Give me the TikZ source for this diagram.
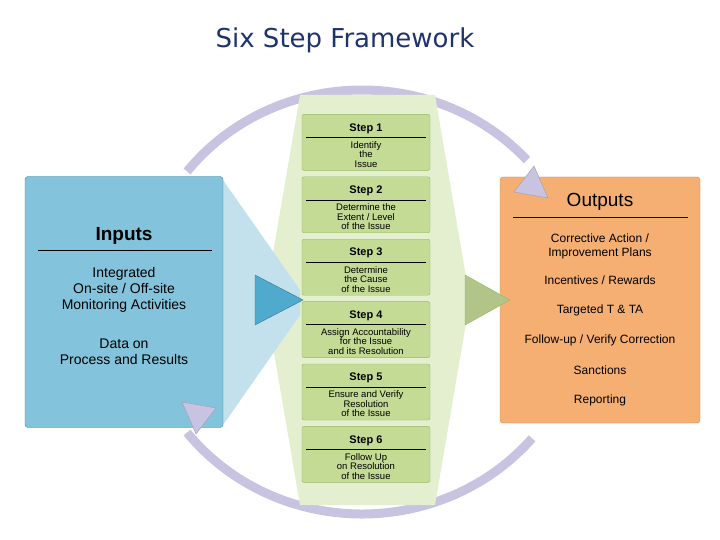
\documentclass[tikz,border=0pt]{standalone}
\usepackage{fontspec}
\setmainfont{Liberation Sans}
\newfontfamily\titlefont{DejaVu Sans}
\usetikzlibrary{arrows.meta}
\definecolor{stepgreen}{RGB}{196,219,150}
\definecolor{stepedge}{RGB}{150,185,100}
\definecolor{inblue}{RGB}{80,170,205}
\definecolor{outorange}{RGB}{245,175,115}
\definecolor{ringpurple}{RGB}{200,195,225}
\definecolor{titleblue}{RGB}{30,50,110}
\begin{document}
\begin{tikzpicture}[x=1pt,y=-1pt,
 stepbox/.style={draw=stepedge,fill=stepgreen,rounded corners=2pt,minimum width=128pt,minimum height=56pt,inner sep=0pt},
 side/.style={draw=#1!80!black,rounded corners=3pt,inner sep=0pt},
 txt/.style={align=center,font=\fontsize{9.5}{9.5}\selectfont},
 big/.style={align=center,font=\fontsize{14}{16}\selectfont},
 outtxt/.style={align=center,font=\fontsize{12}{14}\selectfont}]
\useasboundingbox (0,0) rectangle (720,540);
\node[font=\titlefont\fontsize{26}{30}\selectfont,text=titleblue] (title) at (345,40) {Six Step Framework};
% ring arrows
\coordinate (c) at (362,302);
\draw[ringpurple,line width=9pt] ([shift={(218:222 and 212)}]c) arc[start angle=218,end angle=318,x radius=222,y radius=212];
\draw[ringpurple,line width=9pt] ([shift={(40:222 and 212)}]c) arc[start angle=40,end angle=142,x radius=222,y radius=212];
% pale green band
\fill[stepgreen!45] (300,95) -- (435,95) -- (470,300) -- (435,505) -- (300,505) -- (265,300) -- cycle;
% shading from inputs
\fill[inblue!35] (223,180) -- (300,290) -- (300,315) -- (223,425) -- cycle;
% input box
\node[side=inblue,fill=inblue!70,minimum width=198pt,minimum height=251pt] (inp) at (124,302) {};
\node[big,font=\fontsize{19}{21}\selectfont\bfseries] (intitle) at (124,236) {Inputs};
\draw (38,250) -- (212,250);
\node[big] (in1) at (124,290) {Integrated\\On-site / Off-site\\Monitoring Activities};
\node[big] (in2) at (124,352) {Data on\\Process and Results};
% output box
\node[side=outorange,fill=outorange,minimum width=200pt,minimum height=246pt] (out) at (600,300) {};
\node[big,font=\fontsize{19}{21}\selectfont] (outtitle) at (600,202) {Outputs};
\draw (513,217) -- (688,217);
\node[outtxt] (o1) at (600,246) {Corrective Action /\\Improvement Plans};
\node[outtxt] (o2) at (600,280) {Incentives / Rewards};
\node[outtxt] (o3) at (600,310) {Targeted T \& TA};
\node[outtxt] (o4) at (600,340) {Follow-up / Verify Correction};
\node[outtxt] (o5) at (600,370) {Sanctions};
\node[outtxt] (o6) at (600,400) {Reporting};
% arrow heads of the ring
\coordinate (a1) at (548,198); \coordinate (a2) at (182,402);
\fill[ringpurple,draw=ringpurple!80!black] (a1) -- ++(-34,-6) -- ++(20,-26) -- cycle;
\fill[ringpurple,draw=ringpurple!80!black] (a2) -- ++(34,6) -- ++(-20,26) -- cycle;
% triangles
\fill[inblue,draw=inblue!70!black] (255,275) -- (303,300) -- (255,325) -- cycle;
\fill[stepgreen!90!black,draw=stepedge] (465,275) -- (510,300) -- (465,325) -- cycle;
% steps
\foreach \n/\t in {1/{Identify\\the\\Issue},
 2/{Determine the\\Extent / Level\\of the Issue},
 3/{Determine\\the Cause\\of the Issue},
 4/{Assign Accountability\\for the Issue\\and its Resolution},
 5/{Ensure and Verify\\Resolution\\of the Issue},
 6/{Follow Up\\on Resolution\\of the Issue}}{
 \node[stepbox] (s\n) at (366,80+62.4*\n) {};
 \node[txt,font=\fontsize{11}{12}\selectfont\bfseries] (h\n) at (366,66+62.4*\n) {Step \n};
 \draw (306,75+62.4*\n) -- (426,75+62.4*\n);
 \node[txt] (t\n) at (366,92+62.4*\n) {\t};
}
\end{tikzpicture}
\end{document}
